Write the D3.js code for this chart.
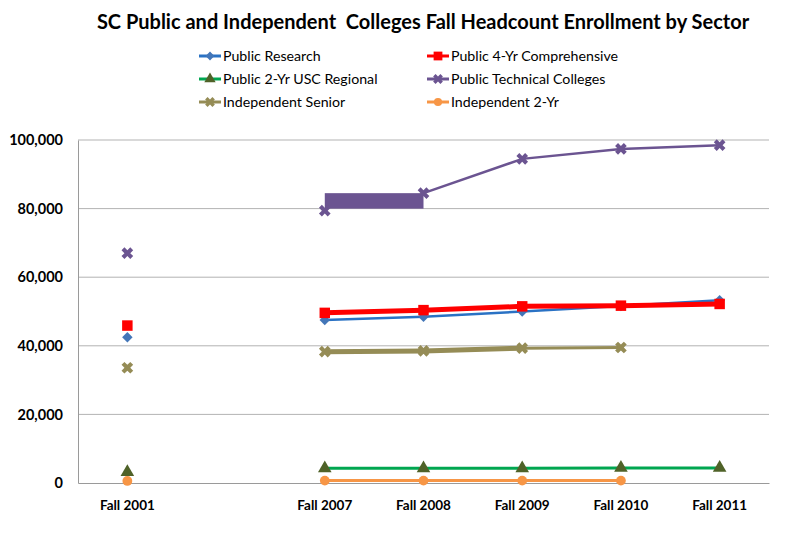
<!DOCTYPE html>
<html>
<head>
<meta charset="utf-8">
<script src="https://cdnjs.cloudflare.com/ajax/libs/d3/7.8.5/d3.min.js"></script>
<style>
  body { margin: 0; background: #fff; }
  text { font-family: Lato, "Open Sans", sans-serif; }
</style>
</head>
<body>
<div id="chart"></div>
<script>
// Categories (the second slot is an empty category in the original)
const categories = ["Fall 2001", "", "Fall 2007", "Fall 2008", "Fall 2009", "Fall 2010", "Fall 2011"];
const yTicks = [0, 20000, 40000, 60000, 80000, 100000];

// Series values (null = no data)
const publicResearch = [42500, null, 47500, 48500, 50000, 51600, 53300];
const public4Yr = [45900, null, 49600, 50400, 51500, 51700, 52200];
const public2YrUSC = [3200, null, 4300, 4300, 4300, 4400, 4400];
const publicTechnical = [67000, null, 79400, 84500, 94500, 97400, 98500];
const independentSenior = [33600, null, 38300, 38500, 39300, 39500, null];
const independent2Yr = [600, null, 700, 700, 700, 700, null];

const series = [
    { name: "Public Research", values: publicResearch, line: "#2a72c4", fill: "#4376b8", symbol: "diamond", width: 2.5 },
    { name: "Public 4-Yr Comprehensive", values: public4Yr, line: "#ff0000", fill: "#ff0000", symbol: "square", width: 5 },
    { name: "Public 2-Yr USC Regional", values: public2YrUSC, line: "#00a650", fill: "#4f6228", symbol: "triangle", width: 3 },
    { name: "Public Technical Colleges", values: publicTechnical, line: "#6b5491", fill: "#6b5491", symbol: "x", width: 2.5 },
    { name: "Independent Senior", values: independentSenior, line: "#958c56", fill: "#958c56", symbol: "x", width: 3 },
    { name: "Independent 2-Yr", values: independent2Yr, line: "#f79646", fill: "#f79646", symbol: "circle", width: 3 }
];

const width = 797, height = 541;
const plot = { left: 78, right: 769, top: 140, bottom: 483 };

const svg = d3.select("#chart").append("svg")
    .attr("width", width)
    .attr("height", height);

const x = d3.scaleBand()
    .domain(d3.range(categories.length))
    .range([plot.left, plot.right]);

const y = d3.scaleLinear()
    .domain([0, 100000])
    .range([plot.bottom, plot.top]);

const cx = i => x(i) + x.bandwidth() / 2;

// Title
svg.append("text")
    .attr("x", 423)
    .attr("y", 29)
    .attr("text-anchor", "middle")
    .style("font-size", "20px")
    .style("font-weight", "bold")
    .style("white-space", "pre")
    .text("SC Public and Independent  Colleges Fall Headcount Enrollment by Sector");

// Gridlines
svg.append("g")
    .selectAll("line")
    .data(yTicks.filter(d => d > 0))
    .enter().append("line")
    .attr("x1", plot.left)
    .attr("x2", plot.right)
    .attr("y1", d => y(d))
    .attr("y2", d => y(d))
    .attr("stroke", "#b3b3b3")
    .attr("stroke-width", 1);

// Y axis
const yAxis = svg.append("g")
    .attr("transform", `translate(${plot.left},0)`)
    .call(d3.axisLeft(y).tickValues(yTicks).tickFormat(d3.format(",")).tickSize(0).tickPadding(15));
yAxis.select(".domain").attr("stroke", "#9a9a9a");
yAxis.selectAll("text")
    .style("font-size", "14.5px")
    .style("font-weight", "bold")
    .style("font-family", "Lato, sans-serif")
    .attr("fill", "#000");

// X axis
const xAxis = svg.append("g")
    .attr("transform", `translate(0,${plot.bottom})`)
    .call(d3.axisBottom(x).tickFormat(i => categories[i]).tickSize(0).tickPadding(17));
xAxis.select(".domain").attr("stroke", "#9a9a9a");
xAxis.selectAll("text")
    .style("font-size", "13.5px")
    .style("font-weight", "bold")
    .style("font-family", "Lato, sans-serif")
    .attr("fill", "#000");

function symbolPath(type, size) {
    if (type === "diamond") return d3.symbol().type(d3.symbolSquare).size(size * 0.55)();
    if (type === "square") return d3.symbol().type(d3.symbolSquare).size(size * 1.1)();
    if (type === "triangle") return d3.symbol().type(d3.symbolTriangle).size(size * 0.8)();
    if (type === "circle") return d3.symbol().type(d3.symbolCircle).size(size * 0.75)();
    return d3.symbol().type(d3.symbolCross).size(size * 0.85)();
}
function symbolRotate(type) {
    return (type === "diamond" || type === "x") ? 45 : 0;
}

const line = d3.line()
    .defined(d => d.v !== null)
    .x(d => cx(d.i))
    .y(d => y(d.v));

// Lines; the 2001 point stands alone because the empty category breaks each line
series.forEach(s => {
    const pts = s.values.map((v, i) => ({ i, v }));
    const g = svg.append("g");

    if (s.name === "Independent Senior") {
        // first two segments drawn heavier in the original
        g.append("path")
            .datum(pts.filter(p => p.i >= 2 && p.i <= 4))
            .attr("d", line)
            .attr("fill", "none")
            .attr("stroke", s.line)
            .attr("stroke-width", 5);
        g.append("path")
            .datum(pts.filter(p => p.i >= 4))
            .attr("d", line)
            .attr("fill", "none")
            .attr("stroke", s.line)
            .attr("stroke-width", s.width);
    } else if (s.name === "Public Technical Colleges") {
        // solid block between Fall 2007 and Fall 2008 in the original
        g.append("rect")
            .attr("x", cx(2))
            .attr("y", y(s.values[3]))
            .attr("width", cx(3) - cx(2))
            .attr("height", y(s.values[2]) - y(s.values[3]) - 2)
            .attr("fill", s.line);
        g.append("path")
            .datum(pts.filter(p => p.i >= 3))
            .attr("d", line)
            .attr("fill", "none")
            .attr("stroke", s.line)
            .attr("stroke-width", s.width);
    } else {
        g.append("path")
            .datum(pts)
            .attr("d", line)
            .attr("fill", "none")
            .attr("stroke", s.line)
            .attr("stroke-width", s.width);
    }
    s.group = g;
});

// Markers
series.forEach(s => {
    s.group.selectAll(".mk")
        .data(s.values.map((v, i) => ({ i, v })).filter(d => d.v !== null))
        .enter().append("path")
        .attr("class", "mk")
        .attr("d", symbolPath(s.symbol, 100))
        .attr("transform", d => `translate(${cx(d.i)},${y(d.v)}) rotate(${symbolRotate(s.symbol)})`)
        .attr("fill", s.fill);
});

// Legend
const legend = svg.append("g");
series.forEach((s, k) => {
    const lx = k % 2 === 0 ? 199 : 427;
    const ly = 56 + Math.floor(k / 2) * 23;
    const g = legend.append("g").attr("transform", `translate(${lx},${ly})`);
    g.append("line")
        .attr("x1", 0).attr("x2", 22)
        .attr("y1", 0).attr("y2", 0)
        .attr("stroke", s.line)
        .attr("stroke-width", 3);
    g.append("path")
        .attr("d", symbolPath(s.symbol, 70))
        .attr("transform", `translate(11,0) rotate(${symbolRotate(s.symbol)})`)
        .attr("fill", s.fill);
    g.append("text")
        .attr("x", 24)
        .attr("y", 5)
        .style("font-size", "14.2px")
        .attr("fill", "#000")
        .text(s.name);
});
</script>
</body>
</html>
